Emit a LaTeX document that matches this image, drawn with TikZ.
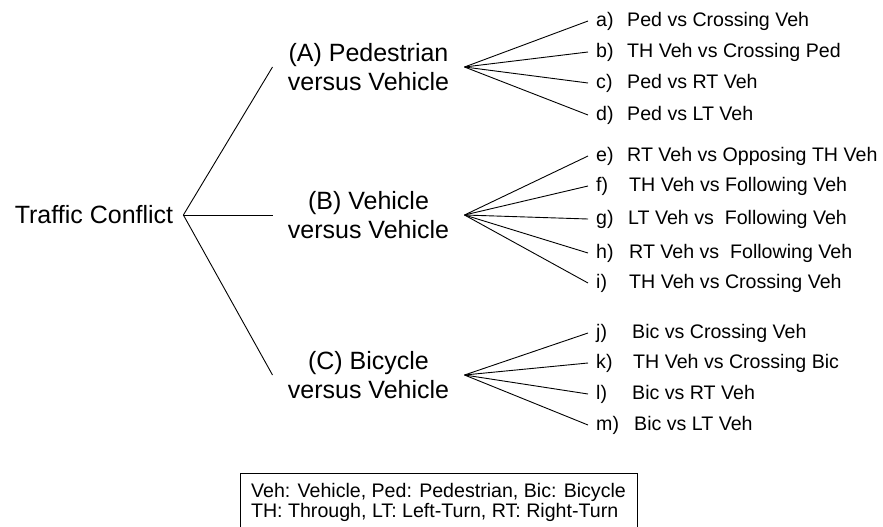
\documentclass[tikz,border=0pt]{standalone}
\usepackage{fontspec}
\setmainfont{Liberation Sans}
\usepackage{tikz}
\usetikzlibrary{positioning}

\newcommand{\leaflbl}[2][31pt]{\makebox[#1][l]{#2}}

\begin{document}
\begin{tikzpicture}[x=1pt, y=-1pt,
		rootnode/.style={inner xsep=10pt, font=\fontsize{25}{30}\selectfont},
		groupnode/.style={align=center, inner xsep=15.2pt, font=\fontsize{25}{29}\selectfont},
		leaf/.style={anchor=west, inner xsep=8pt, font=\fontsize{19.6}{22}\selectfont},
		legend/.style={draw, align=left, inner xsep=11pt, inner ysep=10pt, semithick, font=\fontsize{19.6}{20}\selectfont},
		branch/.style={line width=0.9pt}]

		\clip (0,0) rectangle (883,527);

		\node[rootnode] (tc) at (94,215) {Traffic Conflict};
		\node[groupnode] (grpA) at (368.5,67) {(A) Pedestrian\\versus Vehicle};
		\node[groupnode] (grpB) at (368.5,215) {(B) Vehicle\\versus Vehicle};
		\node[groupnode] (grpC) at (368.5,375) {(C) Bicycle\\versus Vehicle};

		\draw[branch] (tc.east) -- (grpA.west);
		\draw[branch] (tc.east) -- (grpB.west);
		\draw[branch] (tc.east) -- (grpC.west);

		% pedestrian versus vehicle
		\node[leaf] (a) at (588,21) {\leaflbl{a)}Ped vs Crossing Veh};
		\node[leaf] (b) at (588,52) {\leaflbl{b)}TH Veh vs Crossing Ped};
		\node[leaf] (c) at (588,83) {\leaflbl{c)}Ped vs RT Veh};
		\node[leaf] (d) at (588,115) {\leaflbl{d)}Ped vs LT Veh};

		\draw[branch] (grpA.east) -- (a.west);
		\draw[branch] (grpA.east) -- (b.west);
		\draw[branch] (grpA.east) -- (c.west);
		\draw[branch] (grpA.east) -- (d.west);

		% vehicle versus vehicle
		\node[leaf] (e) at (588,156) {\leaflbl{e)}RT Veh vs Opposing TH Veh};
		\node[leaf] (f) at (588,186) {\leaflbl[33pt]{f)}TH Veh vs Following Veh};
		\node[leaf] (g) at (588,219) {\leaflbl[32pt]{g)}LT Veh vs\ \ Following Veh};
		\node[leaf] (h) at (588,253) {\leaflbl[33pt]{h)}RT Veh vs\ \ Following Veh};
		\node[leaf] (i) at (588,283) {\leaflbl[33pt]{i)}TH Veh vs Crossing Veh};

		\draw[branch] (grpB.east) -- (e.west);
		\draw[branch] (grpB.east) -- (f.west);
		\draw[branch] (grpB.east) -- (g.west);
		\draw[branch] (grpB.east) -- (h.west);
		\draw[branch] (grpB.east) -- (i.west);

		% bicycle versus vehicle
		\node[leaf] (j) at (588,333) {\leaflbl[36pt]{j)}Bic vs Crossing Veh};
		\node[leaf] (k) at (588,363) {\leaflbl[37pt]{k)}TH Veh vs Crossing Bic};
		\node[leaf] (l) at (588,394) {\leaflbl[36pt]{l)}Bic vs RT Veh};
		\node[leaf] (m) at (588,425) {\leaflbl[38pt]{m)}Bic vs LT Veh};

		\draw[branch] (grpC.east) -- (j.west);
		\draw[branch] (grpC.east) -- (k.west);
		\draw[branch] (grpC.east) -- (l.west);
		\draw[branch] (grpC.east) -- (m.west);

		\node[legend, anchor=north] (key) at (438.5,473)
			{Veh: Vehicle, Ped: Pedestrian, Bic: Bicycle\\TH: Through, LT: Left-Turn, RT: Right-Turn};
\end{tikzpicture}
\end{document}
